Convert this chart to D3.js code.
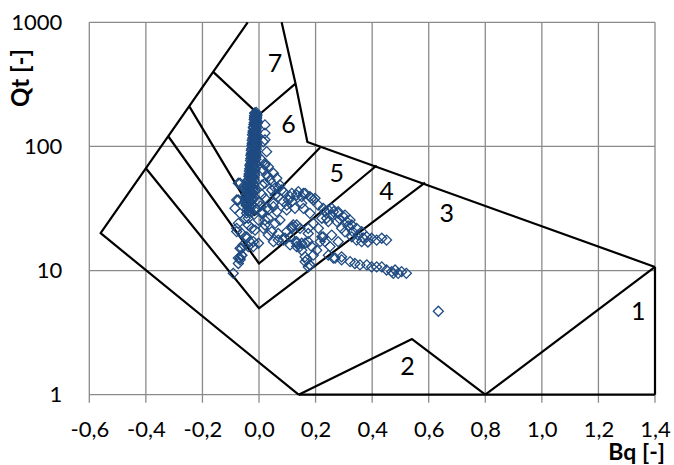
<!DOCTYPE html>
<html>
<head>
<meta charset="utf-8">
<script src="https://cdn.jsdelivr.net/npm/d3@7"></script>
<style>
  html, body { margin: 0; padding: 0; background: #fff; }
  svg { display: block; }
  text { font-family: Lato, "Open Sans", sans-serif; }
</style>
</head>
<body>
<svg id="chart" width="674" height="465"></svg>
<script>
// ---------- data ----------
const xTickValues = [-0.6, -0.4, -0.2, 0.0, 0.2, 0.4, 0.6, 0.8, 1.0, 1.2, 1.4];
const yTickValues = [1, 10, 100, 1000];
const xTitle = "Bq [-]";
const yTitle = "Qt [-]";

// zone boundary polylines [Bq, Qt]
const outerLeft     = [[0.14, 1], [-0.56, 20], [-0.04, 1000]];
const outerTopRight = [[0.08, 1000], [0.129, 321], [0.171, 108.6], [1.4, 10.7]];
const bottomEdge    = [[0.14, 1], [1.4, 1]];
const rightEdge     = [[1.4, 1], [1.4, 10.7]];
const zone1Line     = [[0.8, 1], [1.4, 10.7]];
const zone2Line     = [[0.14, 1], [0.541, 2.81], [0.8, 1]];
const line34        = [[-0.4, 66.7], [0.0, 4.97], [0.587, 51.2]];
const line45        = [[-0.321, 120.8], [0.0, 11.4], [0.416, 70.2]];
const line56        = [[-0.247, 211], [-0.016, 28], [0.216, 98]];
const line67        = [[-0.162, 399], [0.0, 180], [0.129, 321]];

// zone labels [label, Bq, Qt]
const zoneLabels = [["7", 0.057, 482], ["6", 0.104, 154], ["5", 0.275, 62.6], ["4", 0.451, 44.4],
                    ["3", 0.664, 29.8], ["2", 0.525, 1.74], ["1", 1.341, 4.81]];

// measured points [Bq, Qt]
const columnPts = [
  [-0.010,188],[-0.014,184],[-0.007,179],[-0.012,175],[-0.016,171],[-0.009,167],[-0.013,163],[-0.006,159],
  [-0.017,155],[-0.011,152],[-0.015,148],[-0.008,145],[-0.019,141],[-0.012,138],[-0.016,135],[-0.009,132],
  [-0.021,129],[-0.013,126],[-0.017,123],[-0.008,120],[-0.022,117],[-0.014,114],[-0.018,111],[-0.009,109],
  [-0.024,106],[-0.015,104],[-0.019,101],[-0.010,99],[-0.026,96],[-0.016,94],[-0.021,92],[-0.011,90],
  [-0.027,88],[-0.017,86],[-0.022,84],[-0.012,82],[-0.029,80],[-0.018,78],[-0.024,76],[-0.013,74],
  [-0.031,72],[-0.020,71],[-0.026,69],[-0.015,67],[-0.033,66],[-0.022,64],[-0.028,63],[-0.016,61],
  [-0.035,60],[-0.024,58],[-0.030,57],[-0.018,56],[-0.038,54],[-0.026,53],[-0.032,52],[-0.020,50],
  [-0.041,49],[-0.028,48],[-0.034,47],[-0.022,46],[-0.043,45],[-0.030,44],[-0.036,43],[-0.024,42],
  [-0.046,41],[-0.032,40],[-0.038,39],[-0.026,38],[-0.048,37],[-0.034,36],[-0.040,35],[-0.028,34],
  [-0.045,33.5],[-0.036,32.5],[-0.030,32],[-0.042,31],[-0.034,30.5],[-0.039,30],[-0.027,29.5],[-0.044,29],
  [-0.050,45],[-0.040,42],[-0.020,38],[0.000,36],[-0.045,34],[0.005,33],[-0.010,31],[0.010,41],[-0.030,30]
];
const columnPts2 = [
  [-0.015,186],[-0.009,181],[-0.016,177],[-0.008,173],[-0.013,169],[-0.017,165],[-0.010,161],[-0.014,157],
  [-0.007,153],[-0.018,150],[-0.012,146],[-0.020,143],[-0.010,139],[-0.014,136],[-0.021,133],[-0.011,130],
  [-0.016,127],[-0.023,124],[-0.012,121],[-0.017,118],[-0.009,115],[-0.024,112],[-0.013,110],[-0.020,107],
  [-0.008,105],[-0.025,102],[-0.014,100],[-0.021,97],[-0.009,95],[-0.027,93],[-0.016,91],[-0.022,89],
  [-0.010,87],[-0.029,85],[-0.018,83],[-0.024,81],[-0.011,79],[-0.030,77],[-0.019,75],[-0.025,73],
  [-0.012,72],[-0.032,70],[-0.021,68],[-0.027,66.5],[-0.014,65],[-0.034,63.5],[-0.023,62],[-0.029,60.5],
  [-0.015,59],[-0.036,57.5],[-0.025,56.5],[-0.031,55],[-0.017,53.5],[-0.039,52.5],[-0.027,51],[-0.034,50],
  [-0.019,48.8],[-0.042,47.6],[-0.030,46.5],[-0.036,45.5],[-0.021,44.5],[-0.044,43.5],[-0.032,42.5],
  [-0.039,41.5],[-0.023,40.5],[-0.047,39.5],[-0.034,38.5],[-0.041,37.5],[-0.025,36.5],[-0.049,35.5],
  [-0.036,34.5],[-0.043,33.8]
];
const nearColumnPts = [
  [0.021,149],[0.021,128],[0.015,109],[0.021,113],[0.027,90.7],[0.010,77.8],[0.021,70.9],[0.021,73.1],
  [0.015,64.6],[0.033,68.7],[0.051,60.8],[0.063,55.4],[0.027,58.9],[0.039,53.7],[0.011,48.9],[0.057,46.3],
  [0.074,48.9],[0.021,50.5],[0.033,57.1],[0.045,44.6],[0.080,44.6],[0.068,39.4],[0.051,34.8],[0.033,30.8],
  [0.021,38.2],[-0.014,44.6],[-0.067,50.5],[-0.056,47.4],[-0.079,37.0],[-0.073,37.0],[-0.085,31.7],
  [-0.073,50.5],[0.057,40.6],[0.068,46.0],[0.086,35.9],[0.104,37.0],[0.116,41.9],[0.139,43.2]
];
const clusterPts = [
  [-0.073,24.0],[-0.061,19.9],[-0.067,15.1],[-0.073,12.6],[-0.061,13.3],[-0.091,9.5],[-0.038,26.4],
  [-0.026,21.9],[-0.043,18.7],[-0.020,17.1],[-0.002,16.6],[-0.038,15.6],[0.010,28.9],[0.021,25.5],
  [0.057,24.0],[0.074,25.5],[0.098,30.8],[0.116,35.9],[0.068,19.9],[0.051,17.1],[0.086,17.6],
  [0.110,18.7],[0.116,21.9],[0.145,21.9],[0.157,31.7],[0.180,28.9],[0.098,33.7],[0.063,29.8],
  [0.033,19.3],[0.015,21.9],[-0.079,20.6],[-0.061,15.1],[-0.067,12.6],[0.121,23.3],[0.174,21.9],
  [0.227,18.7],[0.098,20.6],[0.133,17.1],[0.145,15.6],[0.163,16.6],[0.186,15.6],[0.204,14.6],
  [0.192,13.3],[0.169,12.2],[0.180,11.1],[0.216,17.1],[0.251,15.6],[0.263,12.6],[0.292,12.9],
  [0.133,15.6],[0.151,16.6],[0.163,12.9],[0.174,10.7],
  [-0.067,28.9],[-0.079,21.9],[-0.049,26.4],[-0.038,23.3],[-0.049,18.7],[-0.032,17.1],[-0.056,16.1],
  [-0.061,13.3],[-0.067,12.2],[-0.073,11.4],[-0.020,15.6],[-0.014,21.2],[-0.002,25.5],[0.010,29.8],
  [0.021,23.3],[0.033,26.4],[0.045,20.6],[0.027,31.7],[0.051,32.7],[0.127,31.7],[0.151,34.8],
  [0.116,22.6],[0.133,23.3],[0.068,17.6],[0.092,18.2],[0.110,16.1],[0.133,16.6],[0.151,14.6],
  [0.174,17.1],[0.163,11.8],[0.180,11.1],[0.222,18.7],[0.233,17.1],[0.257,19.3],[0.280,17.1],
  [0.245,13.3],[0.269,12.6],[0.292,12.2],[0.210,21.9],[0.192,24.0],[0.174,19.9]
];
const upperBranchPts = [
  [0.086,43.2],[0.110,39.4],[0.133,40.6],[0.157,41.9],[0.180,39.4],[0.192,37.0],[0.151,39.4],[0.163,41.9],
  [0.186,38.2],[0.209,33.7],[0.227,31.7],[0.245,30.8],[0.263,29.8],[0.280,28.9],[0.255,28.0],[0.298,27.2],
  [0.310,24.8],[0.286,26.0],[0.328,23.3],[0.315,22.9],[0.345,21.9],[0.363,20.6],[0.332,20.5],[0.350,19.3],
  [0.381,18.7],[0.368,18.3],[0.398,18.2],[0.416,17.6],[0.434,18.2],[0.451,17.6],[0.328,18.7],[0.345,17.6],
  [0.363,17.1],[0.385,17.0],[0.239,26.4],[0.275,24.8],[0.292,21.9],[0.304,20.5],
  [0.198,38.2],[0.233,29.8],[0.257,31.7],[0.280,29.8],[0.304,28.0],[0.322,25.5],[0.222,26.4],[0.245,24.8]
];
const lowerBranchPts = [
  [0.322,11.8],[0.339,11.4],[0.357,11.1],[0.381,11.1],[0.398,10.7],[0.416,10.7],[0.434,10.7],[0.451,10.1],
  [0.469,9.8],[0.481,10.1],[0.492,9.5],[0.504,9.8],[0.521,9.5],[0.475,9.5],[0.634,4.7]
];

// ---------- chart ----------
const svg = d3.select("#chart");
const pLeft = 89.3, pRight = 655, pTop = 22.3, pBottom = 394.7;
const x = d3.scaleLinear().domain([-0.6, 1.4]).range([pLeft, pRight]);
const y = d3.scaleLog().domain([1, 1000]).range([pBottom, pTop]);

const gridColor = "#8a8a8a";
const grid = svg.append("g");
grid.selectAll("line.v").data(xTickValues).join("line")
  .attr("x1", d => x(d)).attr("x2", d => x(d))
  .attr("y1", pTop).attr("y2", pBottom + 8)
  .attr("stroke", gridColor).attr("stroke-width", 1.3);
grid.selectAll("line.h").data(yTickValues).join("line")
  .attr("x1", pLeft).attr("x2", pRight)
  .attr("y1", d => y(d)).attr("y2", d => y(d))
  .attr("stroke", gridColor).attr("stroke-width", 1.3);

const fmtX = d => (d < -1e-9 ? "-" : "") + Math.abs(d).toFixed(1).replace(".", ",");
const xAxis = svg.append("g").attr("transform", `translate(0,${pBottom})`)
  .call(d3.axisBottom(x).tickValues(xTickValues).tickSize(0).tickPadding(27).tickFormat(fmtX));
xAxis.select(".domain").remove();
xAxis.selectAll("text").attr("font-size", 22).attr("fill", "#000").style("font-family", "Lato");

const yAxis = svg.append("g").attr("transform", `translate(${pLeft},0)`)
  .call(d3.axisLeft(y).tickValues(yTickValues).tickSize(0).tickPadding(27).tickFormat(d3.format("d")));
yAxis.select(".domain").remove();
yAxis.selectAll("text").attr("font-size", 22).attr("fill", "#000").style("font-family", "Lato");

// boundaries
const line = d3.line().x(d => x(d[0])).y(d => y(d[1]));
const boundaries = [outerLeft, outerTopRight, bottomEdge, rightEdge, zone1Line, zone2Line, line34, line45, line56, line67];
svg.append("g").selectAll("path").data(boundaries).join("path")
  .attr("d", line).attr("fill", "none").attr("stroke", "#000")
  .attr("stroke-width", 2.2).attr("stroke-linejoin", "round");

// zone labels
svg.append("g").selectAll("text").data(zoneLabels).join("text")
  .attr("x", d => x(d[1])).attr("y", d => y(d[2]))
  .attr("text-anchor", "middle").attr("dominant-baseline", "central")
  .attr("font-size", 25).attr("fill", "#000").text(d => d[0]);

// points
const allPts = [].concat(columnPts, columnPts2, nearColumnPts, clusterPts, upperBranchPts, lowerBranchPts);
const diamond = d3.symbol(d3.symbolSquare, 50)();
svg.append("g").selectAll("path").data(allPts).join("path")
  .attr("d", diamond)
  .attr("transform", d => `translate(${x(d[0])},${y(d[1])}) rotate(45)`)
  .attr("fill", "none").attr("stroke", "#1f4b82").attr("stroke-width", 1.3);

// titles
svg.append("text").attr("transform", "translate(29,78) rotate(-90)")
  .attr("text-anchor", "middle").attr("font-size", 24).attr("font-weight", "bold")
  .attr("fill", "#000").text(yTitle);
svg.append("text").attr("x", 665).attr("y", 460)
  .attr("text-anchor", "end").attr("font-size", 23).attr("font-weight", "bold")
  .attr("fill", "#000").text(xTitle);
</script>
</body>
</html>
